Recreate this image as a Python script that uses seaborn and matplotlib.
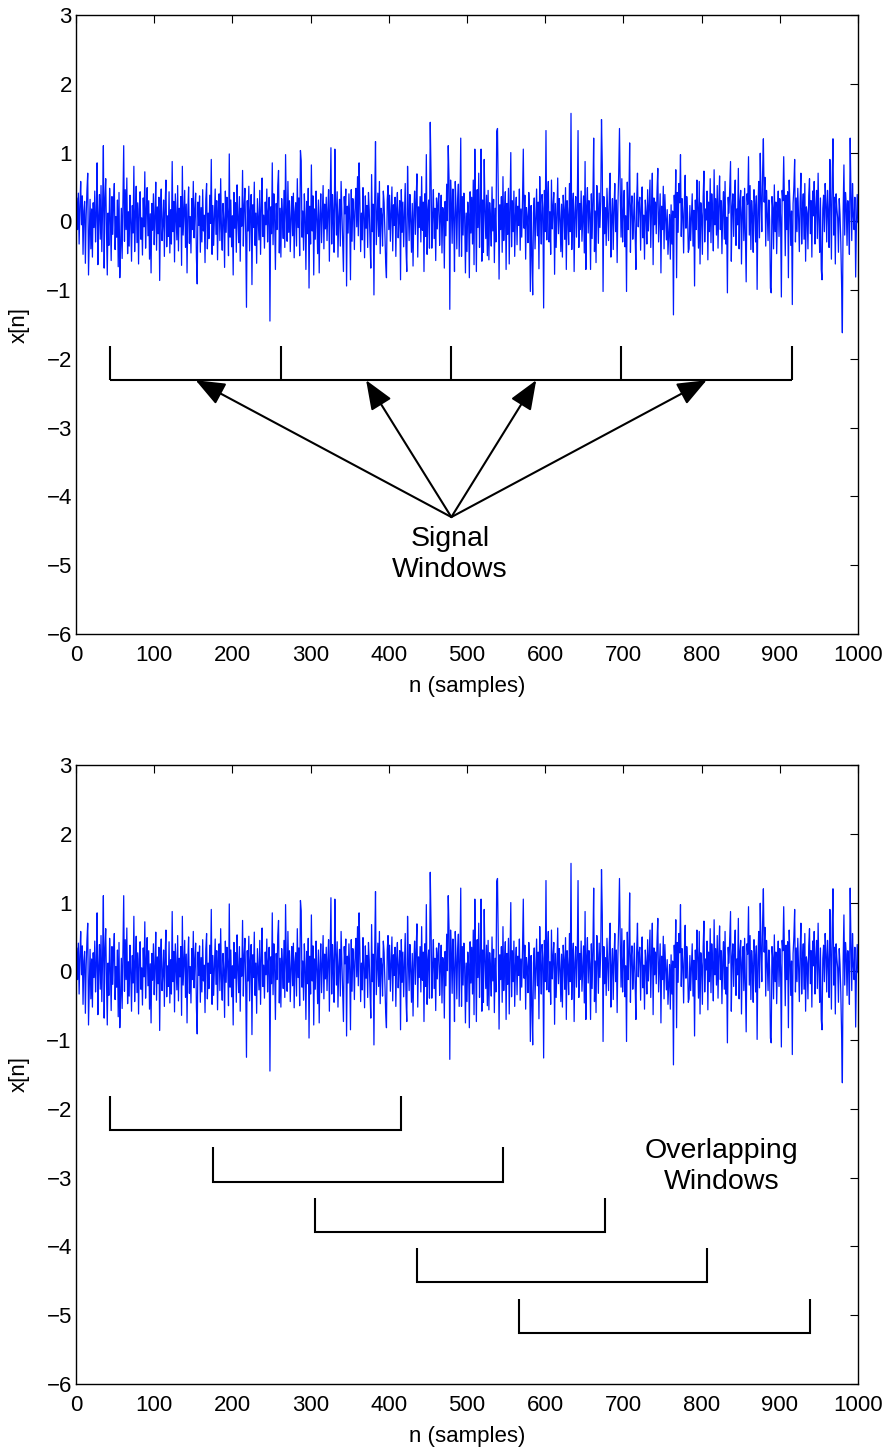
import numpy as np
import matplotlib
matplotlib.use("Agg")
import matplotlib.pyplot as plt
import seaborn as sns

# Noise record x[n], n = 1..1000
signal = [
    0.34, -0.12, 0.41, -0.33, 0.22, 0.58, -0.05, 0.37, -0.48, 0.15, 0.29, -0.61, 0.08, 0.45, 0.70, -0.78, -0.21, 0.32, -0.40, 0.18,
    -0.52, 0.27, -0.09, 0.44, -0.30, 0.11, 0.85, -0.63, 0.05, 0.39, -0.26, 0.52, -0.44, 0.21, 1.10, -0.68, 0.33, 0.62, -0.15, -0.78,
    0.12, -0.35, 0.48, 0.03, -0.57, 0.36, -0.19, 0.25, 0.55, -0.41, 0.07, -0.23, 0.31, -0.66, 0.42, -0.82, -0.38, 0.19, -0.54, 0.28,
    1.10, -0.29, 0.46, -0.12, 0.63, -0.47, 0.14, -0.36, 0.38, 0.02, -0.58, 0.23, -0.17, 0.80, -0.44, 0.09, 0.51, -0.31, 0.27, -0.62,
    0.18, 0.43, -0.26, 0.05, -0.49, 0.34, -0.08, 0.72, -0.39, 0.15, 0.49, -0.21, 0.30, -0.55, 0.11, -0.75, 0.26, -0.13, 0.40, -0.34,
    0.06, 0.57, -0.42, 0.21, -0.18, 0.35, -0.86, 0.13, 0.47, -0.28, -0.04, 0.31, -0.51, 0.24, 0.60, -0.37, 0.08, -0.22, 0.43, -0.46,
    0.17, -0.33, 0.87, -0.15, 0.29, -0.59, 0.40, 0.04, -0.27, 0.52, -0.43, 0.19, -0.08, 0.36, -0.64, 0.80, -0.20, 0.11, 0.45, -0.38,
    0.25, -0.75, 0.14, 0.50, -0.32, 0.07, -0.46, 0.33, -0.12, 0.58, -0.24, 0.16, 0.41, -0.53, -0.91, 0.28, -0.06, 0.37, -0.45, 0.20,
    -0.30, 0.46, -0.14, 0.09, -0.60, 0.32, 0.55, -0.40, 0.12, -0.25, 0.38, -0.03, 0.90, -0.48, 0.23, -0.35, 0.06, 0.47, -0.19, 0.30,
    -0.56, 0.15, 0.40, -0.28, 0.62, -0.11, -0.42, 0.26, 0.03, -0.67, 0.44, -0.16, 0.35, 0.10, -0.50, 0.98, -0.23, 0.31, -0.37, 0.08,
    -0.78, 0.42, -0.10, 0.27, -0.45, 0.53, 0.05, -0.31, 0.36, -0.58, 0.19, -0.07, 0.74, -0.36, 0.22, 0.48, -0.20, -1.25, 0.30, -0.14,
    0.51, -0.43, 0.16, 0.39, -0.92, 0.24, -0.09, 0.57, -0.35, 0.12, -0.61, 0.33, 0.02, -0.27, 0.45, -0.48, 0.18, 0.63, -0.22, 0.09,
    -0.39, 0.28, -0.05, 0.47, -0.30, 0.14, 0.35, -1.45, 0.21, -0.18, 0.85, -0.34, 0.40, 0.07, -0.70, 0.26, -0.12, 0.52, 0.74, -0.46,
    0.19, -0.52, 0.33, 0.08, -0.25, 0.45, -0.38, 0.97, 0.11, -0.29, 0.58, -0.16, 0.30, -0.44, 0.05, 0.36, -0.21, 0.41, -0.53, 0.14,
    0.27, -0.36, 0.62, -0.09, 0.34, -0.50, 1.03, 0.88, -0.23, 0.15, -0.42, 0.40, 0.06, -0.70, 0.29, -0.18, 0.48, -0.97, 0.22, -0.33,
    0.82, -0.14, 0.37, -0.78, 0.18, -0.26, 0.44, 0.03, -0.47, 0.31, -0.75, 0.09, 0.40, -0.31, 0.12, 0.52, -0.40, 0.25, -0.11, 0.35,
    -0.28, 0.16, 0.46, -0.58, 0.21, 1.07, -0.33, 0.39, 0.10, -0.45, 1.05, 0.28, -0.20, 0.43, -0.52, 0.07, 0.32, -0.36, 0.58, 0.15,
    -0.25, -0.73, 0.36, 0.11, 0.47, -0.94, 0.22, -0.17, 0.40, 0.03, -0.85, 0.46, -0.29, 0.33, 0.14, -0.41, 0.27, 0.48, -0.08, 0.65,
    -0.21, 0.85, 0.30, -0.44, 0.12, -0.27, 0.49, 0.06, -0.53, 0.37, -0.10, 0.23, -0.38, 0.42, 0.16, -0.31, -0.68, 0.68, -0.15, 0.25,
    -1.07, 0.33, 1.16, -0.34, 0.05, 0.41, -0.22, 0.58, -0.47, 0.19, 0.09, -0.36, 0.44, 0.27, -0.18, -0.60, -0.82, 0.31, 0.52, -0.12,
    0.38, -0.29, 0.13, 0.50, -0.43, 0.24, -0.06, 0.35, -0.51, 0.18, 0.42, -0.24, 0.07, 0.30, -0.85, 0.46, -0.16, 0.28, -0.37, 0.10,
    0.55, -0.40, -0.73, 0.80, 0.17, -0.28, 0.39, 0.02, -0.45, 0.26, -0.65, 0.12, 0.44, -0.19, 0.33, 0.69, -0.52, 0.21, -0.09, 0.36,
    -0.30, 0.65, -0.13, 0.28, -0.73, 0.40, -0.22, 0.97, -0.48, 0.15, 0.31, -0.39, 1.44, 0.70, -0.39, 0.08, 0.46, -0.25, 0.19, -0.57,
    0.34, -0.11, 0.27, 0.41, -0.35, 0.06, 0.38, -0.46, 0.20, 0.13, -0.68, 0.29, -0.21, 0.54, 0.01, 1.10, 0.63, -1.28, 0.60, 0.24,
    -0.32, 0.47, 0.05, -0.73, 0.58, 0.22, -0.40, 0.30, 0.54, -0.51, 0.15, 1.21, -0.51, 0.36, -0.20, 0.41, 0.07, -0.75, 0.12, -0.44,
    0.28, 0.10, -0.82, 0.43, -0.17, 0.35, -0.33, 0.60, -0.63, 1.05, 0.22, -0.73, 0.46, -0.09, 0.70, -0.38, 0.18, 1.05, -0.58, 0.31,
    -0.45, 0.90, 0.16, -0.25, 0.38, -0.50, 0.45, -0.56, 0.27, 0.04, -0.36, 0.50, -0.14, 0.32, -0.60, 0.19, -0.30, 1.31, 1.35, 0.40,
    -0.84, 0.24, -0.12, 0.36, -0.45, 0.65, -0.28, 0.11, 0.43, -0.70, 0.26, -0.19, 0.48, -0.62, 0.15, 1.00, -0.37, 0.30, -0.15, 0.44,
    -0.51, 0.09, 0.35, -0.34, 0.22, -0.06, 0.47, -0.42, 0.18, -0.23, 0.32, 1.05, -0.10, 0.38, -0.55, 0.20, 0.06, -0.31, 0.42, 0.15,
    -1.02, 0.23, -0.48, -1.07, 0.12, 0.34, -0.40, 0.05, 0.47, -0.21, 0.28, -0.69, 0.65, 0.08, -0.33, 0.39, 0.19, -1.26, 0.45, -0.15,
    1.32, -0.27, 0.31, 0.58, -0.30, 0.14, -0.48, 0.60, -0.11, 0.21, 0.42, -0.77, 0.26, -0.38, 0.09, 0.63, -0.18, 0.33, 0.04, -0.44,
    0.25, -0.52, 0.38, 0.16, -0.26, 0.49, -0.70, 0.30, 0.07, -0.34, 0.55, -0.15, 1.57, -0.41, 0.20, 0.41, -0.73, 0.12, 0.36, -0.23,
    0.18, 1.32, -0.38, 0.26, -0.12, 0.44, -0.29, 0.05, 0.37, -0.46, 0.87, -0.70, 0.22, 0.49, -0.17, 0.30, 0.11, -0.70, 0.40, -0.25,
    0.33, 1.21, -0.44, 0.15, -0.60, 0.52, 0.24, -0.32, 0.41, -0.09, 0.29, 1.48, 0.82, -1.02, 0.36, -0.18, 0.20, -0.35, 0.48, 0.10,
    -0.28, 0.42, 0.70, -0.52, 0.06, 0.33, -0.41, 0.19, 0.55, -0.15, 0.31, -0.60, 0.24, 0.70, 1.35, 0.40, -0.23, 0.62, -0.30, 0.12,
    0.45, -0.37, 0.08, -1.02, 0.57, -0.12, 0.28, 1.14, -0.45, 0.20, 0.37, -0.26, 0.04, 0.41, -0.19, -0.70, 0.30, 0.70, -0.08, 0.26,
    0.35, -0.42, 0.18, 0.50, -0.24, 0.09, -0.55, 0.31, 0.13, -0.33, 0.46, -0.14, 0.25, 0.60, -0.38, 0.21, 0.70, -0.63, 0.34, -0.05,
    0.28, -0.18, 0.44, 0.77, -0.30, 0.07, 0.40, -0.75, 0.22, -0.12, 0.51, -0.40, 0.39, 0.05, -0.27, 0.17, -0.48, -0.20, 0.10, -0.55,
    0.24, -0.33, 0.15, -1.36, 0.38, 0.06, 0.75, -0.82, 0.42, -0.16, 0.55, 0.27, 0.97, -0.22, 0.33, 0.11, -0.46, 0.30, 0.67, -0.10,
    0.36, 0.12, -0.45, -0.40, 0.23, -0.28, 0.08, 0.40, -0.36, 0.16, -0.94, 0.31, -0.12, 0.60, 0.20, -0.39, 0.58, -0.62, 0.27, 0.09,
    -0.48, 0.36, 0.73, -0.30, 0.18, 0.02, 0.44, -0.56, 0.28, -0.15, 0.62, -0.31, 0.40, 0.10, -0.43, 0.75, -0.05, 0.33, -0.20, 0.52,
    -0.39, 0.25, 0.66, -0.12, 0.30, -0.47, 0.14, 0.43, -0.26, 0.58, -0.33, 0.06, -1.04, 0.35, 0.12, 0.50, 0.87, -0.58, 0.20, 0.40,
    -0.22, 0.31, 0.60, -0.35, 0.18, -0.05, 0.77, -0.40, 0.29, 0.45, -0.62, 0.13, 0.36, -0.28, 0.48, -0.18, -0.88, 0.40, 0.25, 0.94,
    -0.20, 0.52, -0.41, 0.30, 0.08, -0.45, 0.46, 0.22, -0.30, 0.37, -0.99, 0.14, 0.58, -0.24, 0.99, 0.32, -0.15, 0.70, 1.20, 0.28,
    0.64, -0.36, 0.45, 0.12, -0.28, 0.31, 0.02, -0.97, -1.04, 0.36, 0.20, -0.40, 0.53, -0.15, 0.28, -0.47, 0.10, 0.44, -0.22, 0.33,
    0.05, -1.10, 0.45, 0.30, 0.94, 0.18, -0.50, 0.38, -0.12, 0.43, -0.82, 0.60, 0.22, -0.35, 0.15, -1.21, 0.26, 0.50, 0.90, -0.30,
    0.34, -0.15, 0.48, 0.07, -0.44, 0.28, 0.70, -0.33, 0.16, 0.40, -0.26, 0.55, -0.58, 0.21, 0.12, -0.40, 0.37, 0.62, -0.18, 0.30,
    -0.52, 0.44, 0.08, 0.58, -0.33, 0.20, 0.45, -0.25, 0.70, 0.02, -0.45, 0.34, -0.70, -0.85, 0.18, 0.38, -0.15, 0.55, 0.25, -0.30,
    0.45, 0.12, -0.38, 0.90, 0.30, -0.55, 0.62, 1.20, -0.20, 0.35, -0.62, 0.40, 0.18, 0.05, -0.45, 0.33, 0.10, -0.30, -0.90, -1.62,
    0.15, 0.82, -0.20, 0.42, 0.25, -0.35, 0.30, 0.10, -0.48, 1.21, 0.40, -0.28, 0.55, 0.08, -0.12, 0.35, -0.81, -0.05, 0.39, -0.02,
]
n = np.arange(1, len(signal) + 1)

# Adjacent (non-overlapping) windows: boundaries in samples
window_edges = [44, 262, 480, 697, 916]
# Overlapping windows: start sample, common length, bracket top levels
overlap_starts = [44, 175, 306, 436, 567]
overlap_length = 371
overlap_tops = [-1.81, -2.56, -3.29, -4.02, -4.76]
bracket_depth = 0.5

x_ticks = list(range(0, 1001, 100))
y_ticks = list(range(-6, 4))

sns.set_style("white")
plt.rcParams["font.family"] = ["Liberation Sans", "DejaVu Sans"]
plt.rcParams["text.color"] = "black"
plt.rcParams["axes.labelcolor"] = "black"

W, H = 891, 1450
fig = plt.figure(figsize=(W / 100, H / 100), dpi=100)


def make_axes(top_px, bottom_px):
    return fig.add_axes([76 / W, 1 - bottom_px / H, (858 - 76) / W, (bottom_px - top_px) / H])


ax1 = make_axes(15, 634)
ax2 = make_axes(765, 1384)

for ax in (ax1, ax2):
    sns.lineplot(x=n, y=signal, ax=ax, color=(0.0, 0.1, 1.0), lw=0.9, estimator=None)
    ax.set_xlim(0, 1000)
    ax.set_ylim(-6, 3)
    ax.set_xticks(x_ticks)
    ax.set_yticks(y_ticks)
    ax.tick_params(direction="in", top=True, right=True, length=6, width=0.8,
                   labelsize=16, colors="black")
    ax.tick_params(axis="x", pad=8)
    ax.tick_params(axis="y", pad=3)
    for s in ax.spines.values():
        s.set_linewidth(1.0)
        s.set_color("black")
    ax.set_xlabel("n (samples)", fontsize=16, labelpad=7, color="black")
    ax.set_ylabel("x[n]", fontsize=16, labelpad=12, color="black")

bracket_kw = dict(color="black", lw=1.5, solid_capstyle="butt", solid_joinstyle="miter")

# Top panel: contiguous signal windows
line_y = overlap_tops[0] - bracket_depth
ax1.plot([window_edges[0], window_edges[-1]], [line_y, line_y], **bracket_kw)
for e in window_edges:
    ax1.plot([e, e], [overlap_tops[0], line_y], **bracket_kw)

origin = (480, -4.3)
for a, b in zip(window_edges[:-1], window_edges[1:]):
    ax1.annotate("", xy=((a + b) / 2, line_y), xytext=origin,
                 arrowprops=dict(arrowstyle="-|>,head_length=0.5,head_width=0.2",
                                 mutation_scale=36, lw=1.5, color="black",
                                 shrinkA=0, shrinkB=0))
ax1.text(478, -4.84, "Signal\nWindows", fontsize=20.5, ha="center", va="center",
         linespacing=1.27, color="black")

# Bottom panel: overlapping windows
for s, top in zip(overlap_starts, overlap_tops):
    bot = top - bracket_depth
    ax2.plot([s, s, s + overlap_length, s + overlap_length], [top, bot, bot, top], **bracket_kw)
ax2.text(826, -2.84, "Overlapping\nWindows", fontsize=20.5, ha="center", va="center",
         linespacing=1.27, color="black")

fig.savefig("out.png", dpi=100)
